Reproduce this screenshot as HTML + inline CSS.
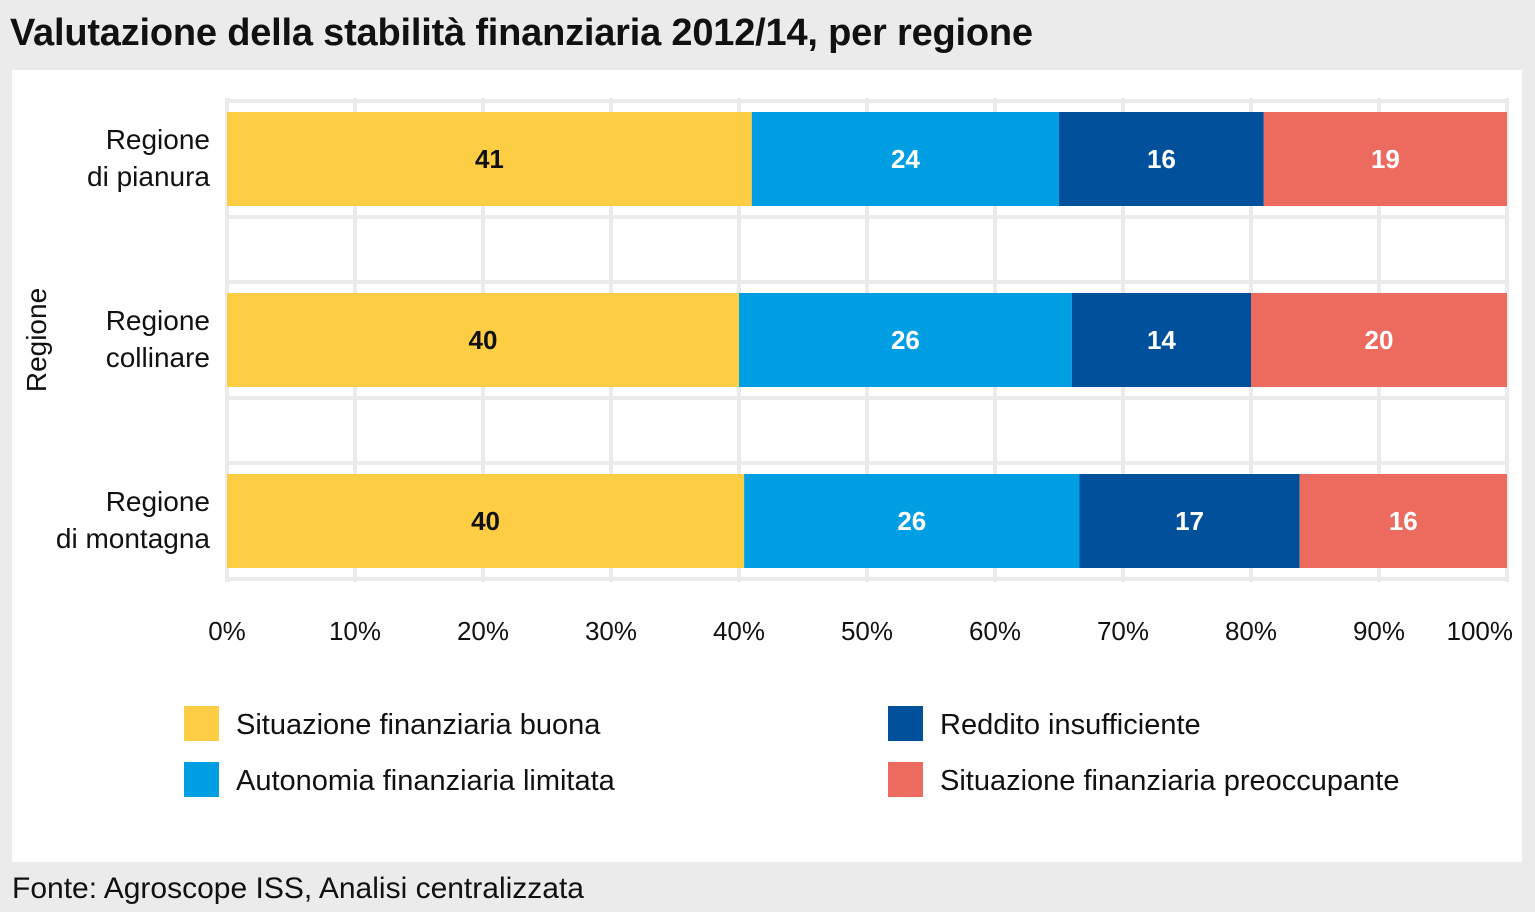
<!DOCTYPE html>
<html><head><meta charset="utf-8"><style>
body{margin:0;width:1535px;height:912px;background:#ebebeb;font-family:"Liberation Sans",sans-serif;overflow:hidden;position:relative}
#title{position:absolute;left:10px;top:12px;font-size:38px;font-weight:bold;color:#111;letter-spacing:-0.2px;white-space:nowrap}
#panel{position:absolute;left:12px;top:70px;width:1510px;height:792px;background:#fff}
#src{position:absolute;left:12px;top:872px;font-size:30px;color:#111;white-space:nowrap}
svg{position:absolute;left:0;top:0}
</style></head><body>
<div id="title">Valutazione della stabilità finanziaria 2012/14, per regione</div>
<div id="panel"></div>
<div id="src">Fonte: Agroscope ISS, Analisi centralizzata</div>
<svg id="chart" width="1535" height="912"></svg>
<script>
const categories=[["Regione","di pianura"],["Regione","collinare"],["Regione","di montagna"]];
const seriesNames=["Situazione finanziaria buona","Autonomia finanziaria limitata","Reddito insufficiente","Situazione finanziaria preoccupante"];
const buona=[41,40,40.4];
const autonomia=[24,26,26.2];
const reddito=[16,14,17.2];
const preoccupante=[19,20,16.2];
const labels=[[41,24,16,19],[40,26,14,20],[40,26,17,16]];
const ticks=[0,10,20,30,40,50,60,70,80,90,100];
const colors=["#fdcd43","#009fe3","#00509b","#ec6a5e"];
const textColors=["#111","#fff","#fff","#fff"];
const NS="http://www.w3.org/2000/svg";
const svg=document.getElementById('chart');
const x=v=>227+v*12.8;
const yc=i=>159+i*181;
const bh=94;
function mk(t,a){const e=document.createElementNS(NS,t);for(const k in a)e.setAttribute(k,a[k]);svg.appendChild(e);return e;}
ticks.forEach((t,k)=>{const l=mk('line',{x1:x(t),x2:x(t),y1:98,y2:582,stroke:'#ebebeb','stroke-width':4});


const last=k===ticks.length-1;
const tx=mk('text',{x:last?x(t)+6:x(t),y:640,'text-anchor':last?'end':'middle','font-size':26,fill:'#111'});tx.textContent=t+'%';

});
categories.forEach((c,i)=>{[yc(i)-bh/2-11,yc(i)+bh/2+11].forEach(yy=>{const l=mk('line',{x1:225,x2:1509,y1:yy,y2:yy,stroke:'#ebebeb','stroke-width':4});

});});
const series=[buona,autonomia,reddito,preoccupante];
categories.forEach((c,i)=>{
 let acc=0;
 series.forEach((s,j)=>{const v=s[i];const r=mk('rect',{x:x(acc),y:yc(i)-bh/2,width:x(acc+v)-x(acc),height:bh,fill:colors[j]});
 
 
 const t=mk('text',{x:(x(acc)+x(acc+v))/2,y:yc(i)+9,'text-anchor':'middle','font-size':26,'font-weight':'bold',fill:textColors[j]});t.textContent=labels[i][j];
 
 
 acc+=v;});
 c.forEach((ln,k)=>{const t=mk('text',{x:210,y:yc(i)-10+k*37,'text-anchor':'end','font-size':28,fill:'#111'});t.textContent=ln;
 
 });
});
const yt=mk('text',{x:0,y:0,'text-anchor':'middle','font-size':28,fill:'#111',transform:'translate(46,340) rotate(-90)'});yt.textContent='Regione';


const lp=[[184,706],[184,762],[888,706],[888,762]];
seriesNames.forEach((n,j)=>{const r=mk('rect',{x:lp[j][0],y:lp[j][1],width:35,height:35,fill:colors[j]});


const t=mk('text',{x:lp[j][0]+52,y:lp[j][1]+28,'font-size':29,fill:'#111'});t.textContent=n;

});
</script>
</body></html>
